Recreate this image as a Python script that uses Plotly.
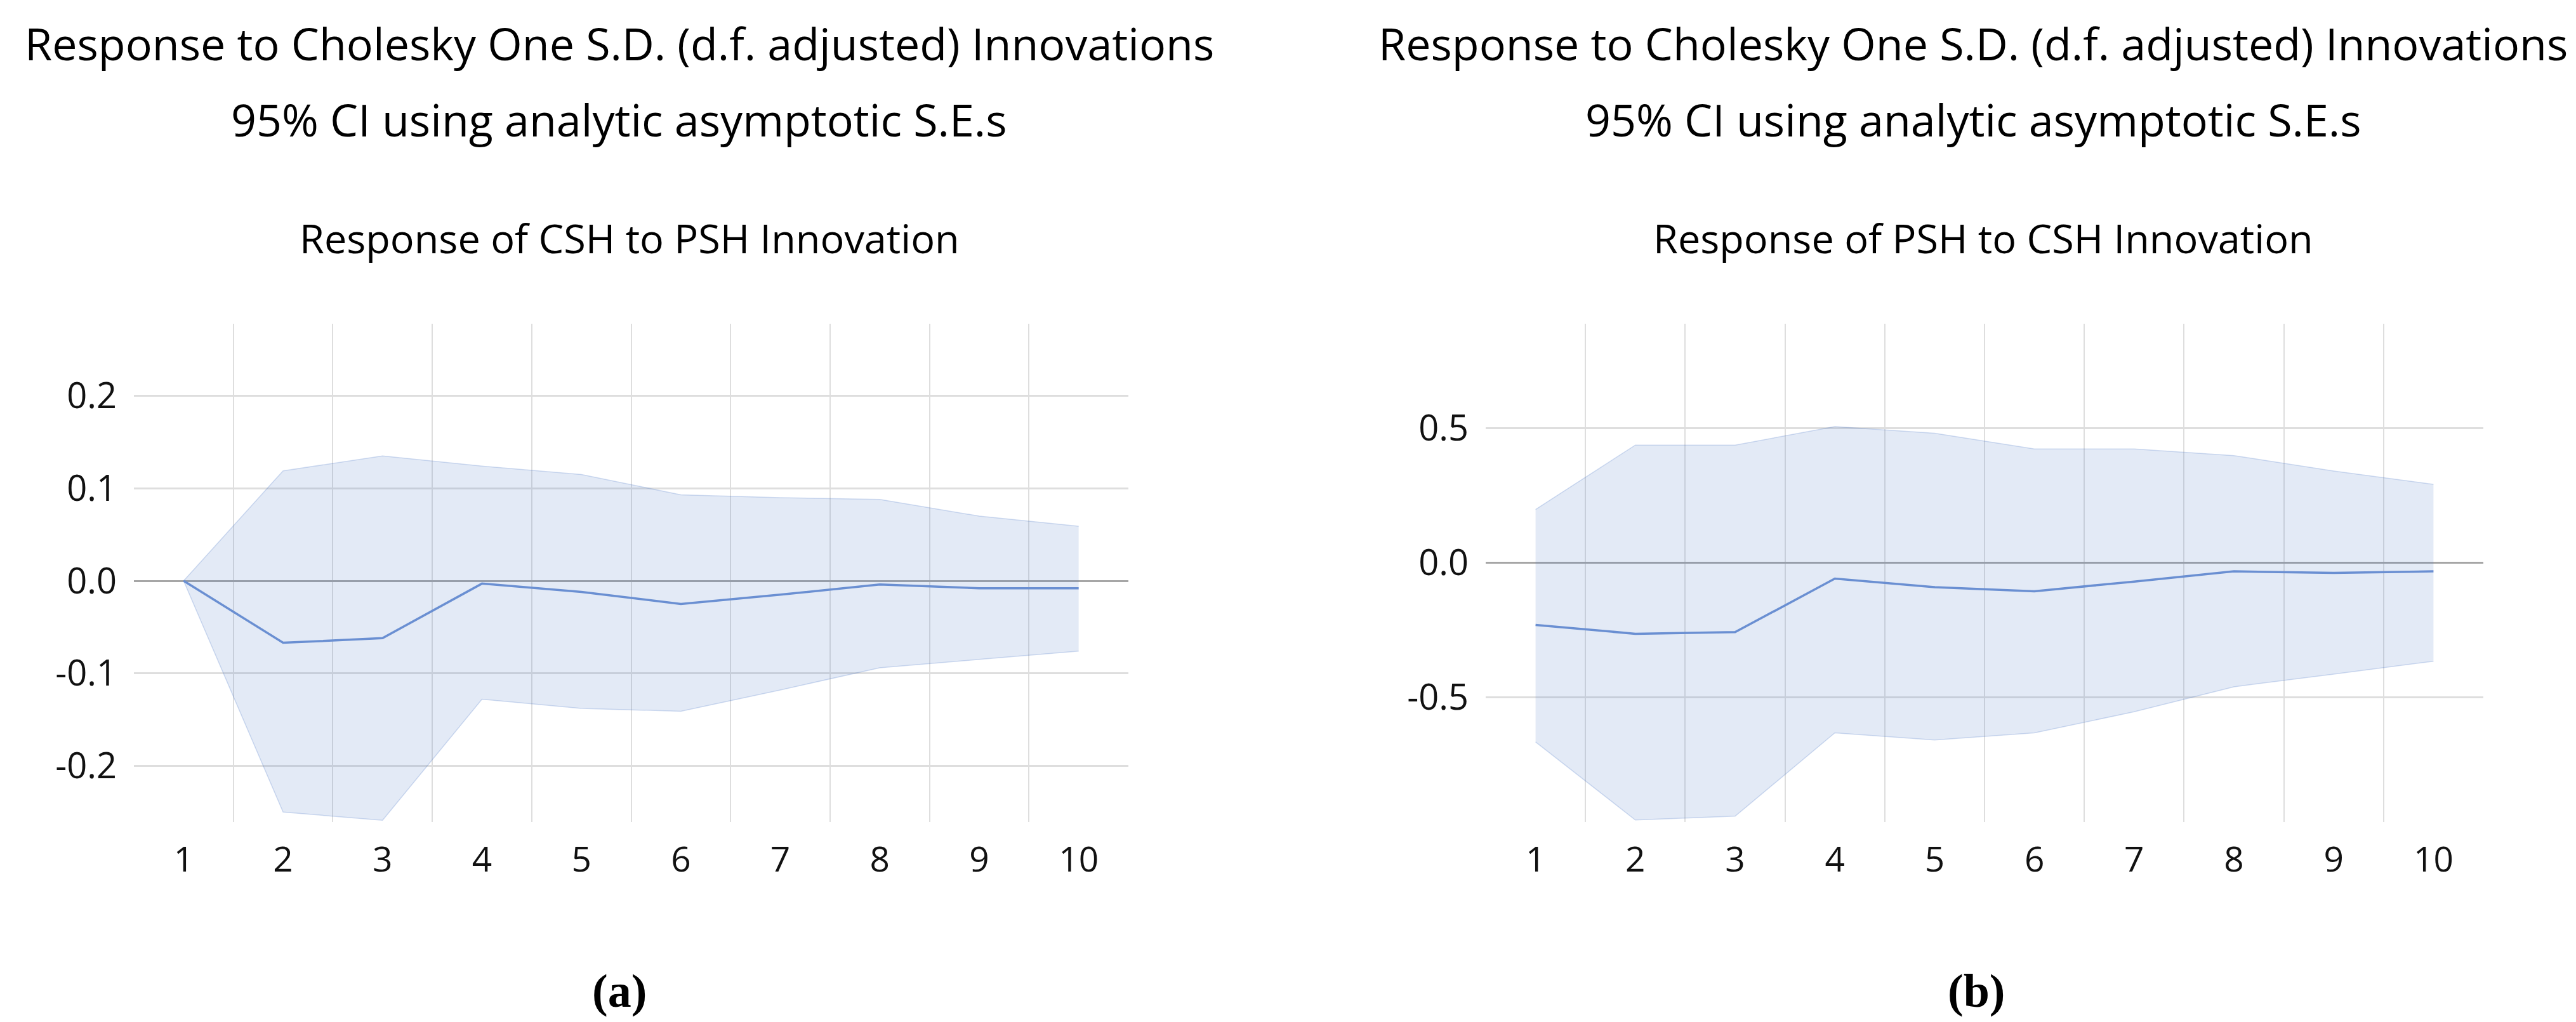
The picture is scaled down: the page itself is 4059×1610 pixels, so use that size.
import plotly.graph_objects as go

# impulse response periods
periods = [1, 2, 3, 4, 5, 6, 7, 8, 9, 10]

# (a) Response of CSH to PSH innovation
csh_resp = [0.0, -0.067, -0.062, -0.003, -0.012, -0.025, -0.015, -0.004, -0.008, -0.008]
csh_upper = [0.0, 0.119, 0.135, 0.124, 0.115, 0.093, 0.090, 0.088, 0.070, 0.059]
csh_lower = [0.0, -0.250, -0.259, -0.128, -0.138, -0.141, -0.118, -0.094, -0.085, -0.076]

# (b) Response of PSH to CSH innovation
psh_resp = [-0.232, -0.265, -0.259, -0.060, -0.092, -0.107, -0.071, -0.033, -0.039, -0.033]
psh_upper = [0.197, 0.436, 0.436, 0.505, 0.480, 0.422, 0.422, 0.397, 0.340, 0.290]
psh_lower = [-0.667, -0.957, -0.943, -0.633, -0.660, -0.633, -0.555, -0.462, -0.415, -0.367]

a_yticks = [-0.2, -0.1, 0.0, 0.1, 0.2]
b_yticks = [-0.5, 0.0, 0.5]

main_title = "Response to Cholesky One S.D. (d.f. adjusted) Innovations"
ci_title = "95% CI using analytic asymptotic S.E.s"
sub_a = "Response of CSH to PSH Innovation"
sub_b = "Response of PSH to CSH Innovation"

W, H = 4059, 1610
FONT = "Open Sans"
LINE = "#6a8fd2"
BAND = "rgba(68,114,196,0.15)"
EDGE = "rgba(68,114,196,0.24)"
GRID = "#dedede"

fig = go.Figure()


def add_panel(resp, upper, lower, xa, ya):
    fig.add_trace(go.Scatter(x=periods, y=upper, mode="lines",
                             line=dict(color=EDGE, width=1.5),
                             xaxis=xa, yaxis=ya, hoverinfo="skip"))
    fig.add_trace(go.Scatter(x=periods, y=lower, mode="lines", fill="tonexty",
                             fillcolor=BAND, line=dict(color=EDGE, width=1.5),
                             xaxis=xa, yaxis=ya, hoverinfo="skip"))
    fig.add_trace(go.Scatter(x=periods, y=resp, mode="lines",
                             line=dict(color=LINE, width=3.5),
                             xaxis=xa, yaxis=ya))


add_panel(csh_resp, csh_upper, csh_lower, "x", "y")
add_panel(psh_resp, psh_upper, psh_lower, "x2", "y2")

# vertical grid sits between the periods
boundaries = [p + 0.5 for p in periods[:-1]]

xcommon = dict(
    range=[0.5, 10.5], tickmode="array", tickvals=periods,
    ticktext=[str(p) for p in periods], showgrid=False, zeroline=False,
    showline=False, ticks="", ticklabelstandoff=22,
    tickfont=dict(family=FONT, size=55, color="#111"),
    minor=dict(tickmode="array", tickvals=boundaries, showgrid=True,
               gridcolor=GRID, gridwidth=2, ticks=""),
)
ycommon = dict(
    tickmode="array", showgrid=True, gridcolor=GRID, gridwidth=2.5,
    zeroline=True, zerolinecolor="#a6a6a6", zerolinewidth=2.5,
    showline=False, ticks="", ticklabelstandoff=26,
    tickfont=dict(family=FONT, size=56, color="#111"),
)

ydom = [1 - 1286.5 / H, 1 - 502 / H]

fig.update_layout(
    width=W, height=H, margin=dict(l=0, r=0, t=0, b=0),
    paper_bgcolor="white", plot_bgcolor="white", showlegend=False,
    xaxis=dict(domain=[203 / W, 1770 / W], anchor="y", **xcommon),
    yaxis=dict(domain=ydom, anchor="x", range=[-0.2605, 0.278],
               tickvals=a_yticks, ticktext=[f"{v:.1f}" for v in a_yticks],
               **ycommon),
    xaxis2=dict(domain=[2333 / W, 3905 / W], anchor="y2", **xcommon),
    yaxis2=dict(domain=ydom, anchor="x2", range=[-0.9634, 0.887],
                tickvals=b_yticks, ticktext=[f"{v:.1f}" for v in b_yticks],
                **ycommon),
)


def label(text, xpx, ypx, size, family=FONT, bold=False):
    fig.add_annotation(
        text=f"<b>{text}</b>" if bold else text, xref="paper", yref="paper",
        x=xpx / W, y=1 - ypx / H, xanchor="center", yanchor="middle",
        showarrow=False, font=dict(family=family, size=size, color="#000"))


for cx, cx_sub, sub, tag, cx_tag in [(967.5, 984, sub_a, "(a)", 968),
                                     (3101, 3117, sub_b, "(b)", 3106)]:
    label(main_title, cx, 60, 70)
    label(ci_title, cx, 180, 70)
    label(sub, cx_sub, 366, 63)
    label(tag, cx_tag, 1553, 74, family="Liberation Serif", bold=True)

fig.write_html("out.html")
